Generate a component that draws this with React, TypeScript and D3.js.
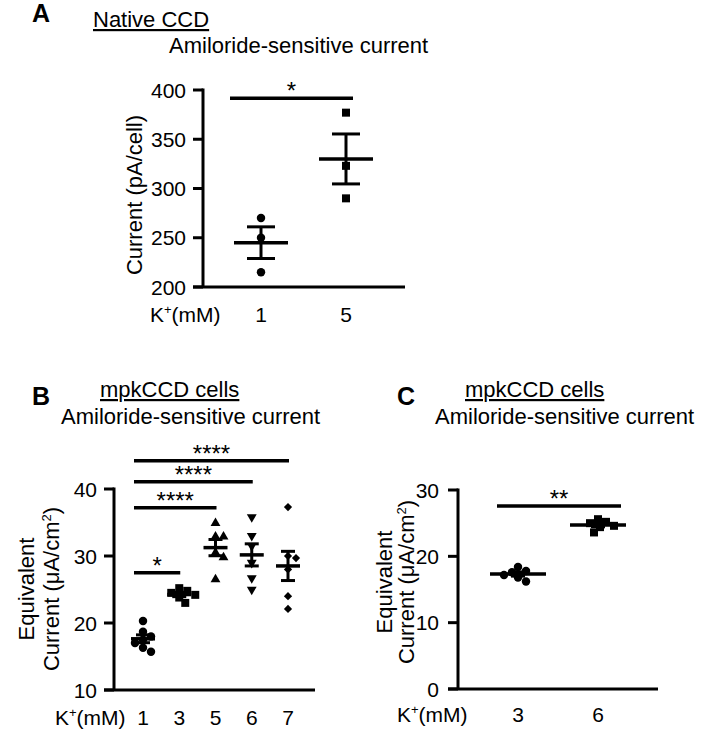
import React from "react";
import * as d3 from "d3";

// ---------- data ----------
const aCats = ["1", "5"];
const aValues = [
  [270, 250, 215],
  [377, 323, 290],
];
const aTicks = [200, 250, 300, 350, 400];
const aSig = [{ from: "1", to: "5", y: 391.5, label: "*" }];

const bCats = ["1", "3", "5", "6", "7"];
const bValues = [
  [20.3, 18.7, 18.0, 17.5, 17.0, 16.3, 15.7],
  [25.2, 24.8, 24.5, 24.2, 23.8, 23.0],
  [34.9, 32.9, 32.9, 30.5, 29.8, 26.5],
  [35.8, 33.0, 31.5, 29.0, 26.7, 25.0],
  [37.3, 30.0, 29.7, 28.0, 24.0, 22.1],
];
const bTicks = [10, 20, 30, 40];
const bSig = [
  { from: "1", to: "3", y: 27.5, label: "*" },
  { from: "1", to: "5", y: 37.2, label: "****" },
  { from: "1", to: "6", y: 41.1, label: "****" },
  { from: "1", to: "7", y: 44.2, label: "****" },
];

const cCats = ["3", "6"];
const cValues = [
  [18.4, 17.8, 17.6, 17.2, 16.8, 16.2],
  [25.6, 25.2, 25.0, 24.6, 24.4, 23.6],
];
const cTicks = [0, 10, 20, 30];
const cSig = [{ from: "3", to: "6", y: 27.6, label: "**" }];

const FONT = "'Liberation Sans', Arial, Helvetica, sans-serif";
const TICK_FS = 21;

type Sig = { from: string; to: string; y: number; label: string };

type PanelProps = {
  cats: string[];
  values: number[][];
  ticks: number[];
  domain: [number, number];
  yRange: [number, number];
  xRange: [number, number];
  axisX: number;
  xAxisEnd: number;
  shapes: string[];
  meanW: number;
  capW: number;
  sigs: Sig[];
  sigPadL: number;
  sigPadR: number;
  jitter: boolean;
  tickLabelX: number;
  xLabelX: number;
  xLabelY: number;
};

function symbolPath(shape: string) {
  if (shape === "circle") return d3.symbol(d3.symbolCircle, 56)();
  if (shape === "square") return d3.symbol(d3.symbolSquare, 64)();
  if (shape === "triUp") return d3.symbol(d3.symbolTriangle, 42)();
  if (shape === "triDown") return d3.symbol(d3.symbolTriangle, 42)();
  if (shape === "diamond") return d3.symbol(d3.symbolSquare, 34)();
  return d3.symbol(d3.symbolCircle, 56)();
}
function symbolTransform(shape: string) {
  if (shape === "triDown") return " rotate(180)";
  if (shape === "diamond") return " rotate(45)";
  return "";
}

function swarm(ys: number[], minDist: number, step: number) {
  const order = ys.map((y, i) => i).sort((a, b) => ys[a] - ys[b]);
  const placed: { x: number; y: number }[] = [];
  const offs = new Array(ys.length).fill(0);
  for (const i of order) {
    let k = 0;
    while (true) {
      const cand = k === 0 ? 0 : (k % 2 === 1 ? 1 : -1) * Math.ceil(k / 2) * step;
      const ok = placed.every((p) => Math.hypot(p.x - cand, p.y - ys[i]) >= minDist);
      if (ok) {
        offs[i] = cand;
        placed.push({ x: cand, y: ys[i] });
        break;
      }
      k++;
      if (k > 40) break;
    }
  }
  return offs;
}

function Panel(p: PanelProps) {
  const y = d3.scaleLinear().domain(p.domain).range(p.yRange);
  const x = d3.scalePoint<string>().domain(p.cats).range(p.xRange);
  const sw = 3;
  return (
    <g>
      {/* axes */}
      <line x1={p.axisX} x2={p.axisX} y1={y(p.domain[1]) - sw / 2} y2={y(p.domain[0])} stroke="#000" strokeWidth={sw} />
      <line x1={p.axisX - 10} x2={p.xAxisEnd} y1={y(p.domain[0])} y2={y(p.domain[0])} stroke="#000" strokeWidth={sw} />
      {p.ticks.map((t) => (
        <g key={t}>
          <line x1={p.axisX - 10} x2={p.axisX} y1={y(t)} y2={y(t)} stroke="#000" strokeWidth={sw} />
          <text x={p.tickLabelX} y={y(t)} dy="0.36em" textAnchor="end" fontSize={TICK_FS} fontFamily={FONT}>
            {t}
          </text>
        </g>
      ))}
      {/* x tick labels */}
      {p.cats.map((c) => (
        <text key={c} x={x(c)} y={p.xLabelY} textAnchor="middle" fontSize={TICK_FS} fontFamily={FONT}>
          {c}
        </text>
      ))}
      <text x={p.xLabelX} y={p.xLabelY} fontSize={TICK_FS} fontFamily={FONT}>
        K<tspan fontSize={13} dy={-8}>+</tspan>
        <tspan dy={8}>(mM)</tspan>
      </text>
      {/* data */}
      {p.values.map((vals, gi) => {
        const cx = x(p.cats[gi]) as number;
        const m = d3.mean(vals) as number;
        const sem = (d3.deviation(vals) as number) / Math.sqrt(vals.length);
        const offs = p.jitter ? swarm(vals.map((v) => y(v)), 8, 2) : vals.map(() => 0);
        const shape = p.shapes[gi];
        const path = symbolPath(shape) as string;
        return (
          <g key={gi}>
            {vals.map((v, i) => (
              <path key={i} d={path} transform={`translate(${cx + offs[i]},${y(v)})${symbolTransform(shape)}`} fill="#000" />
            ))}
            <line x1={cx - p.meanW / 2} x2={cx + p.meanW / 2} y1={y(m)} y2={y(m)} stroke="#000" strokeWidth={3.5} />
            <line x1={cx} x2={cx} y1={y(m + sem)} y2={y(m - sem)} stroke="#000" strokeWidth={3} />
            <line x1={cx - p.capW / 2} x2={cx + p.capW / 2} y1={y(m + sem)} y2={y(m + sem)} stroke="#000" strokeWidth={3} />
            <line x1={cx - p.capW / 2} x2={cx + p.capW / 2} y1={y(m - sem)} y2={y(m - sem)} stroke="#000" strokeWidth={3} />
          </g>
        );
      })}
      {/* significance */}
      {p.sigs.map((s, i) => {
        const x1 = (x(s.from) as number) - p.sigPadL;
        const x2 = (x(s.to) as number) + p.sigPadR;
        return (
          <g key={i}>
            <line x1={x1} x2={x2} y1={y(s.y)} y2={y(s.y)} stroke="#000" strokeWidth={3.5} />
            <text x={(x1 + x2) / 2} y={y(s.y) + 1} textAnchor="middle" fontSize={24} fontFamily={FONT}>
              {s.label}
            </text>
          </g>
        );
      })}
    </g>
  );
}

function RotLabel({ x, y, text, children }: { x: number; y: number; text?: string; children?: React.ReactNode }) {
  return (
    <text transform={`translate(${x},${y}) rotate(-90)`} textAnchor="middle" fontSize={22} fontFamily={FONT}>
      {children ?? text}
    </text>
  );
}

export default function App() {
  return (
    <svg width={707} height={743} style={{ position: "absolute", left: 0, top: 0, background: "#fff" }}>
      <rect width={707} height={743} fill="#fff" />
      {/* Panel A */}
      <text x={32} y={22} fontSize={25} fontWeight="bold" fontFamily={FONT}>A</text>
      <text x={93} y={27} fontSize={22} fontFamily={FONT} style={{ textDecoration: "underline" }}>Native CCD</text>
      <text x={169} y={53} fontSize={22} fontFamily={FONT}>Amiloride-sensitive current</text>
      <RotLabel x={142} y={195} text="Current (pA/cell)" />
      <Panel
        cats={aCats}
        values={aValues}
        ticks={aTicks}
        domain={[200, 400]}
        yRange={[287, 90]}
        xRange={[261, 346]}
        axisX={203}
        xAxisEnd={405}
        shapes={["circle", "square"]}
        meanW={54}
        capW={28}
        sigs={aSig}
        sigPadL={31}
        sigPadR={7}
        jitter={false}
        tickLabelX={186}
        xLabelX={150}
        xLabelY={322}
      />
      {/* Panel B */}
      <text x={32} y={405} fontSize={25} fontWeight="bold" fontFamily={FONT}>B</text>
      <text x={100} y={397} fontSize={22} fontFamily={FONT} style={{ textDecoration: "underline" }}>mpkCCD cells</text>
      <text x={61} y={424} fontSize={22} fontFamily={FONT}>Amiloride-sensitive current</text>
      <RotLabel x={34} y={589} text="Equivalent" />
      <RotLabel x={59} y={589}>
        Current (μA/cm<tspan fontSize={13} dy={-8}>2</tspan>
        <tspan dy={8}>)</tspan>
      </RotLabel>
      <Panel
        cats={bCats}
        values={bValues}
        ticks={bTicks}
        domain={[10, 40]}
        yRange={[690, 489]}
        xRange={[143, 288]}
        axisX={114}
        xAxisEnd={315}
        shapes={["circle", "square", "triUp", "triDown", "diamond"]}
        meanW={24}
        capW={14}
        sigs={bSig}
        sigPadL={9}
        sigPadR={1}
        jitter={true}
        tickLabelX={97}
        xLabelX={55}
        xLabelY={725}
      />
      {/* Panel C */}
      <text x={397} y={405} fontSize={25} fontWeight="bold" fontFamily={FONT}>C</text>
      <text x={465} y={397} fontSize={22} fontFamily={FONT} style={{ textDecoration: "underline" }}>mpkCCD cells</text>
      <text x={435} y={424} fontSize={22} fontFamily={FONT}>Amiloride-sensitive current</text>
      <RotLabel x={392} y={582} text="Equivalent" />
      <RotLabel x={414} y={582}>
        Current (μA/cm<tspan fontSize={13} dy={-8}>2</tspan>
        <tspan dy={8}>)</tspan>
      </RotLabel>
      <Panel
        cats={cCats}
        values={cValues}
        ticks={cTicks}
        domain={[0, 30]}
        yRange={[689, 490]}
        xRange={[518, 598]}
        axisX={458}
        xAxisEnd={658}
        shapes={["circle", "square"]}
        meanW={56}
        capW={14}
        sigs={cSig}
        sigPadL={21}
        sigPadR={23}
        jitter={true}
        tickLabelX={439}
        xLabelX={397}
        xLabelY={722}
      />
    </svg>
  );
}
